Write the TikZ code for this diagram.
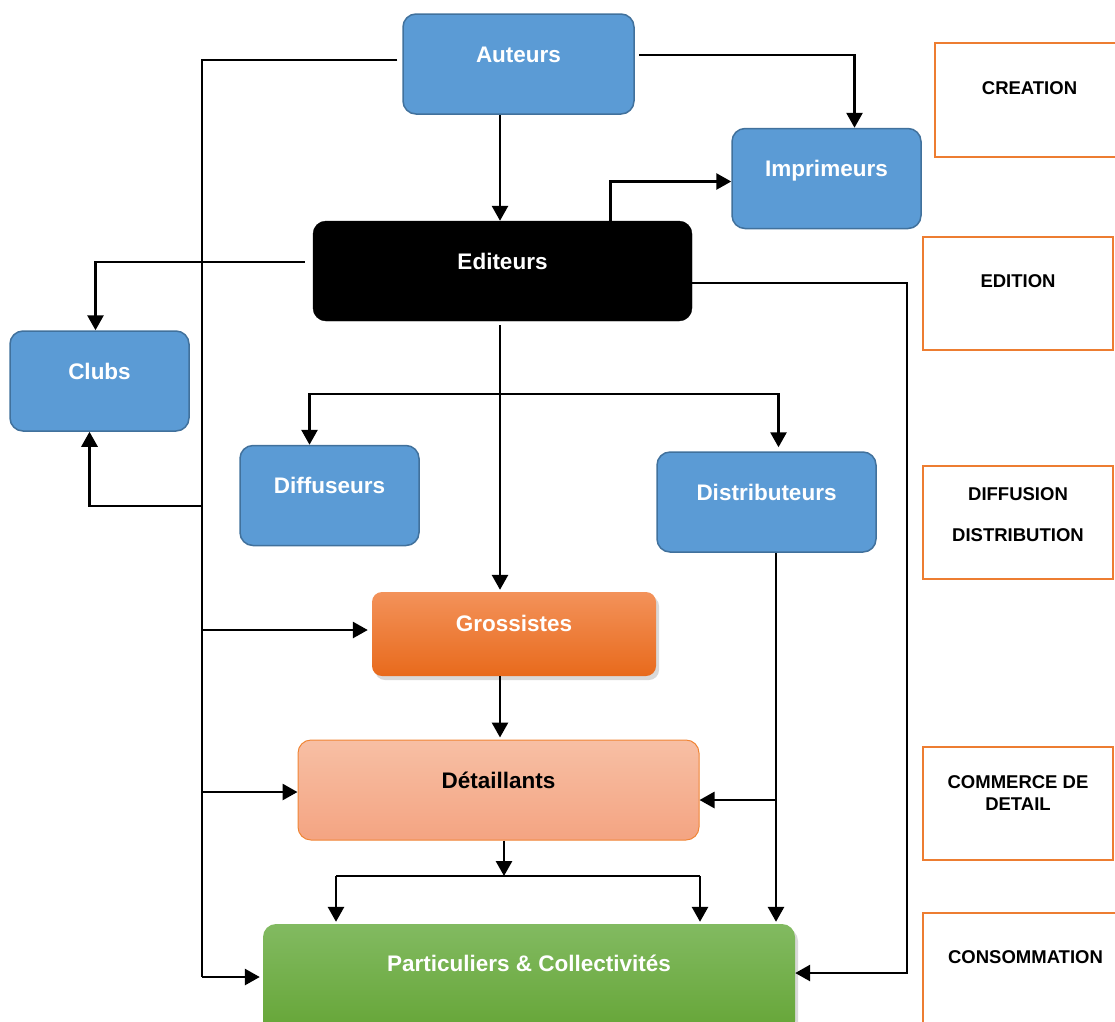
\documentclass[tikz,border=0pt]{standalone}
\usepackage{fontspec}
\setmainfont{Liberation Sans}
\usepackage{xcolor}
\usepackage{tikz}
\usetikzlibrary{arrows.meta,positioning,shadows}
\definecolor{bluefill}{HTML}{5B9BD5}
\definecolor{blueline}{HTML}{41719C}
\definecolor{grostop}{HTML}{F3925A}
\definecolor{grosbot}{HTML}{E86A1C}
\definecolor{dettop}{HTML}{F7BFA4}
\definecolor{detbot}{HTML}{F4A482}
\definecolor{detline}{HTML}{F08535}
\definecolor{parttop}{HTML}{82BA61}
\definecolor{partbot}{HTML}{65A536}
\definecolor{phaseline}{HTML}{ED7D31}
\tikzset{
  mainbox/.style={rounded corners=13pt, align=center, inner sep=0pt, font=\fontsize{22.5}{26}\selectfont\bfseries, text=white, text height=48pt, text depth=52pt},
  actorbox/.style={mainbox, draw=blueline, fill=bluefill, line width=1.5pt},
  editbox/.style={mainbox, draw=black, fill=black},
  grosbox/.style={mainbox, rounded corners=10pt, top color=grostop, bottom color=grosbot, text height=39pt, text depth=45pt, drop shadow={shadow xshift=3pt, shadow yshift=-4pt, opacity=0.3}},
  detbox/.style={mainbox, draw=detline, line width=1pt, top color=dettop, bottom color=detbot, text=black},
  partbox/.style={mainbox, top color=parttop, bottom color=partbot, text height=47pt, text depth=63pt, drop shadow={shadow xshift=3pt, shadow yshift=-4pt, opacity=0.3}},
  phase/.style={draw=phaseline, line width=2pt, fill=white, inner sep=0pt},
  phasetext/.style={font=\fontsize{18.5}{21}\selectfont\bfseries, align=center, inner sep=0pt},
  conn/.style={draw=black, line width=2.8pt},
  arrow/.style={conn, -{Triangle[length=15pt, width=16pt]}}
}
\begin{document}
\begin{tikzpicture}[x=1pt, y=-1pt]
  \useasboundingbox (0,0) rectangle (1115,1021);

  \node[actorbox, minimum width=231pt, minimum height=100pt] (aut) at (518.5,64) {Auteurs};
  \node[actorbox, minimum width=189pt, minimum height=100pt] (impr) at (826.5,178.5) {Imprimeurs};
  \node[editbox, minimum width=379pt, minimum height=100pt] (ed) at (502.5,271) {Editeurs};
  \node[actorbox, minimum width=179pt, minimum height=100pt] (clubs) at (99.5,381) {Clubs};
  \node[actorbox, minimum width=179pt, minimum height=100pt] (diff) at (329.5,495.5) {Diffuseurs};
  \node[actorbox, minimum width=219pt, minimum height=100pt] (dist) at (766.5,502) {Distributeurs};
  \node[grosbox, minimum width=284pt, minimum height=84pt] (gros) at (514,634) {Grossistes};
  \node[detbox, minimum width=401pt, minimum height=100pt] (det) at (498.5,790) {Détaillants};
  \node[partbox, minimum width=532pt, minimum height=110pt] (part) at (529,979) {Particuliers \& Collectivités};

  \node[phase, minimum width=185pt, minimum height=114pt] (creation) at (1027.5,100) {};
  \node[phasetext] (creationtext) at ([xshift=2pt, yshift=-46pt]creation.north) {CREATION};
  \node[phase, minimum width=190pt, minimum height=113pt] (edition) at (1018,293.5) {};
  \node[phasetext] (editiontext) at ([yshift=-45pt]edition.north) {EDITION};
  \node[phase, minimum width=190pt, minimum height=113pt] (diffdist) at (1018,522.5) {};
  \node[phasetext] (diffdisttext) at ([yshift=-50pt]diffdist.north) {DIFFUSION\\[20pt]DISTRIBUTION};
  \node[phase, minimum width=190pt, minimum height=113pt] (commerce) at (1018,803.5) {};
  \node[phasetext] (commercetext) at ([yshift=-47pt]commerce.north) {COMMERCE DE\\[1pt]DETAIL};
  \node[phase, minimum width=197pt, minimum height=117pt] (conso) at (1021.5,971.5) {};
  \node[phasetext] (consotext) at ([xshift=4pt, yshift=-45pt]conso.north) {CONSOMMATION};

  \coordinate (ltop) at (202,60);
  \coordinate (lbot) at (202,977);
  \coordinate (jclubs) at (202,506);
  \coordinate (jgros) at (202,630);
  \coordinate (jdet) at (202,792);
  \coordinate (jr) at (907,973);
  \coordinate (fork) at (500,394);
  \coordinate (jdist) at (776,800);
  \coordinate (fork2) at (504,876);
  \coordinate (pl) at (336,876);
  \coordinate (pr) at (700,876);

  \draw[conn, shorten <=5pt] (aut.west |- ltop) -- (ltop) -- (lbot);
  \draw[arrow] (lbot) -- ([xshift=-3pt]lbot -| part.west);
  \draw[arrow] (jclubs) -| ([xshift=-10pt]clubs.south);
  \draw[arrow] (jgros) -- ([xshift=-4pt]jgros -| gros.west);
  \draw[arrow] (jdet) -- (jdet -| det.west);

  \draw[arrow, shorten <=4pt] ([yshift=9pt]aut.east) -| ([xshift=28pt]impr.north);
  \draw[arrow] (aut.south -| fork) -- (ed.north -| fork);
  \draw[arrow] ([xshift=108pt]ed.north) |- ([yshift=-3pt]impr.west);
  \draw[arrow, shorten <=8pt] ([yshift=9pt]ed.west) -| ([xshift=-4pt]clubs.north);
  \draw[arrow] ([yshift=-12pt]ed.east) -| (jr) -- (jr -| part.east);

  \draw[conn, shorten <=4pt] (ed.south -| fork) -- (fork);
  \draw[arrow] (fork) -| ([xshift=-20pt]diff.north);
  \draw[arrow] (fork) -| ([xshift=12pt, yshift=4pt]dist.north);
  \draw[arrow] (fork) -- ([yshift=2pt]fork |- gros.north);
  \draw[arrow] (gros.south -| fork) -- ([yshift=2pt]det.north -| fork);

  \draw[arrow] (jdist |- dist.south) -- ([yshift=2pt]jdist |- part.north);
  \draw[arrow] (jdist) -- (jdist -| det.east);

  \draw[arrow] (det.south -| fork2) -- (fork2);
  \draw[conn] (pl) -- (pr);
  \draw[arrow] (pl) -- ([yshift=2pt]pl |- part.north);
  \draw[arrow] (pr) -- ([yshift=2pt]pr |- part.north);
\end{tikzpicture}
\end{document}
